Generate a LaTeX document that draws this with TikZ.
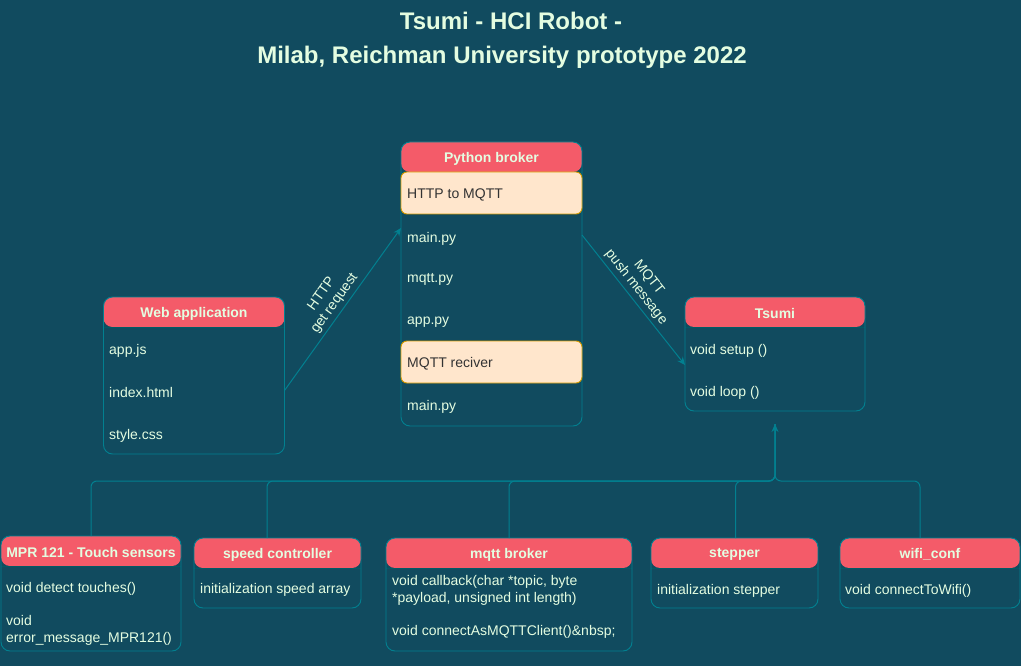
\documentclass[tikz,border=0pt]{standalone}
\usepackage{fontspec}
\setmainfont{Liberation Sans}
\usetikzlibrary{arrows.meta,calc}
\definecolor{bg}{HTML}{114B5F}
\definecolor{hdr}{HTML}{F45B69}
\definecolor{ln}{HTML}{028090}
\definecolor{txt}{HTML}{E4FDE1}
\definecolor{orfill}{HTML}{FFE6CC}
\definecolor{orline}{HTML}{D79B00}
\tikzset{
  x=1pt,y=-1pt,
  umlbox/.style={draw=ln, line width=0.9pt, rounded corners=9pt, fill=bg,
    inner sep=0pt, outer sep=0pt, anchor=north west,
    path picture={\fill[hdr] (path picture bounding box.north west) rectangle ([yshift=-30pt]path picture bounding box.north east);
      \draw[ln!70!black, line width=0.6pt] ([yshift=-30pt]path picture bounding box.north west) -- ([yshift=-30pt]path picture bounding box.north east);}},
  hdrtext/.style={font=\fontsize{14}{16.8}\selectfont\bfseries, text=txt, inner sep=0pt, yshift=-1.5pt},
  itemtext/.style={font=\fontsize{14}{17}\selectfont, text=txt, inner sep=0pt, anchor=west, align=left, yshift=-1.5pt},
  orbox/.style={draw=orline, line width=0.9pt, fill=orfill, rounded corners=6pt, inner sep=0pt, outer sep=0pt, anchor=north west},
  ortext/.style={font=\fontsize{14}{17}\selectfont, text=black!80, inner sep=0pt, anchor=west, yshift=-1.5pt},
  edge/.style={draw=ln, line width=1pt},
  arr/.style={edge, -{Stealth[length=8pt,width=7pt]}},
  bus/.style={edge, rounded corners=6pt},
  lbl/.style={font=\fontsize{14}{16}\selectfont, text=txt, align=center, inner sep=3pt},
  ttl/.style={font=\fontsize{24}{28}\selectfont\bfseries, text=txt},
}
\begin{document}
\begin{tikzpicture}
\fill[bg] (0,0) rectangle (1021,666);
\useasboundingbox (0,0) rectangle (1021,666);

% title
\node[ttl] (t1) at (511,21) {Tsumi - HCI Robot -};
\node[ttl] (t2) at (502,57) {Milab, Reichman University prototype 2022};

% Python broker
\node[umlbox, minimum width=181pt, minimum height=284pt] (py) at (401,142) {};
\node[hdrtext] (pyh) at ($(py.north)+(0,15)$) {Python broker};
\node[orbox, minimum width=181pt, minimum height=42pt] (pyo1) at (401,172) {};
\node[ortext] (pyo1t) at (407,193) {HTTP to MQTT};
\node[itemtext] (py1) at (407,237) {main.py};
\node[itemtext] (py2) at (407,278) {mqtt.py};
\node[itemtext] (py3) at (407,321) {app.py};
\node[orbox, minimum width=181pt, minimum height=42pt] (pyo2) at (401,341) {};
\node[ortext] (pyo2t) at (407,362) {MQTT reciver};
\node[itemtext] (py4) at (407,405) {main.py};

% Web application
\node[umlbox, minimum width=181pt, minimum height=157pt] (web) at (103.5,297) {};
\node[hdrtext] (webh) at ($(web.north)+(0,15)$) {Web application};
\node[itemtext] (web1) at (109,349) {app.js};
\node[itemtext] (web2) at (109,391) {index.html};
\node[itemtext] (web3) at (109,434) {style.css};

% Tsumi
\node[umlbox, minimum width=180pt, minimum height=114pt] (ts) at (685,297) {};
\node[hdrtext] (tsh) at ($(ts.north)+(0,15)$) {Tsumi};
\node[itemtext] (ts1) at (690,349) {void setup ()};
\node[itemtext] (ts2) at (690,391) {void loop ()};

% bottom boxes
\node[umlbox, minimum width=180pt, minimum height=115pt] (mpr) at (1,536) {};
\node[hdrtext] (mprh) at ($(mpr.north)+(0,15)$) {MPR 121 - Touch sensors};
\node[itemtext] (mpr1) at (6,587) {void detect touches()};
\node[itemtext] (mpr2) at (6,629) {void\\error\_message\_MPR121()};

\node[umlbox, minimum width=167pt, minimum height=70pt] (spd) at (194,538) {};
\node[hdrtext] (spdh) at ($(spd.north)+(0,15)$) {speed controller};
\node[itemtext] (spd1) at (200,588) {initialization speed array};

\node[umlbox, minimum width=246pt, minimum height=113pt] (mqb) at (386,538) {};
\node[hdrtext] (mqbh) at ($(mqb.north)+(0,15)$) {mqtt broker};
\node[itemtext] (mqb1) at (392,588.5) {void callback(char *topic, byte\\*payload, unsigned int length)};
\node[itemtext] (mqb2) at (392,630) {void connectAsMQTTClient()\&nbsp;};

\node[umlbox, minimum width=167pt, minimum height=70pt] (stp) at (651,538) {};
\node[hdrtext] (stph) at ($(stp.north)+(0,15)$) {stepper};
\node[itemtext] (stp1) at (657,589) {initialization stepper};

\node[umlbox, minimum width=180pt, minimum height=70pt] (wifi) at (840,538) {};
\node[hdrtext] (wifih) at ($(wifi.north)+(0,15)$) {wifi\_conf};
\node[itemtext] (wifi1) at (845,589) {void connectToWifi()};

% edges top
\draw[arr] ([yshift=-15pt]web.east) -- node[lbl, sloped, above, midway] {HTTP\\get request} ([yshift=56pt]py.west);
\draw[arr] ([yshift=49pt]py.east) -- node[lbl, sloped, above, pos=0.45] {MQTT\\push message} ([yshift=-11pt]ts.west);

% bus
\coordinate (tip) at ([yshift=-13pt]ts.south);
\coordinate (busy) at (0,481);
\draw[bus] (mpr.north) -- (mpr.north |- busy) -- (tip |- busy) -- (tip);
\draw[bus] ([xshift=-10.5pt]spd.north) -- ([xshift=-10.5pt]spd.north |- busy) -- (tip |- busy) -- (tip);
\draw[bus] (mqb.north) -- (mqb.north |- busy) -- (tip |- busy) -- (tip);
\draw[bus] ([xshift=1pt]stp.north) -- ([xshift=1pt]stp.north |- busy) -- (tip |- busy) -- (tip);
\draw[bus] ([xshift=-10pt]wifi.north) -- ([xshift=-10pt]wifi.north |- busy) -- (tip |- busy) -- (tip);
\draw[arr] ([yshift=-10pt]tip) -- (tip);
\end{tikzpicture}
\end{document}
